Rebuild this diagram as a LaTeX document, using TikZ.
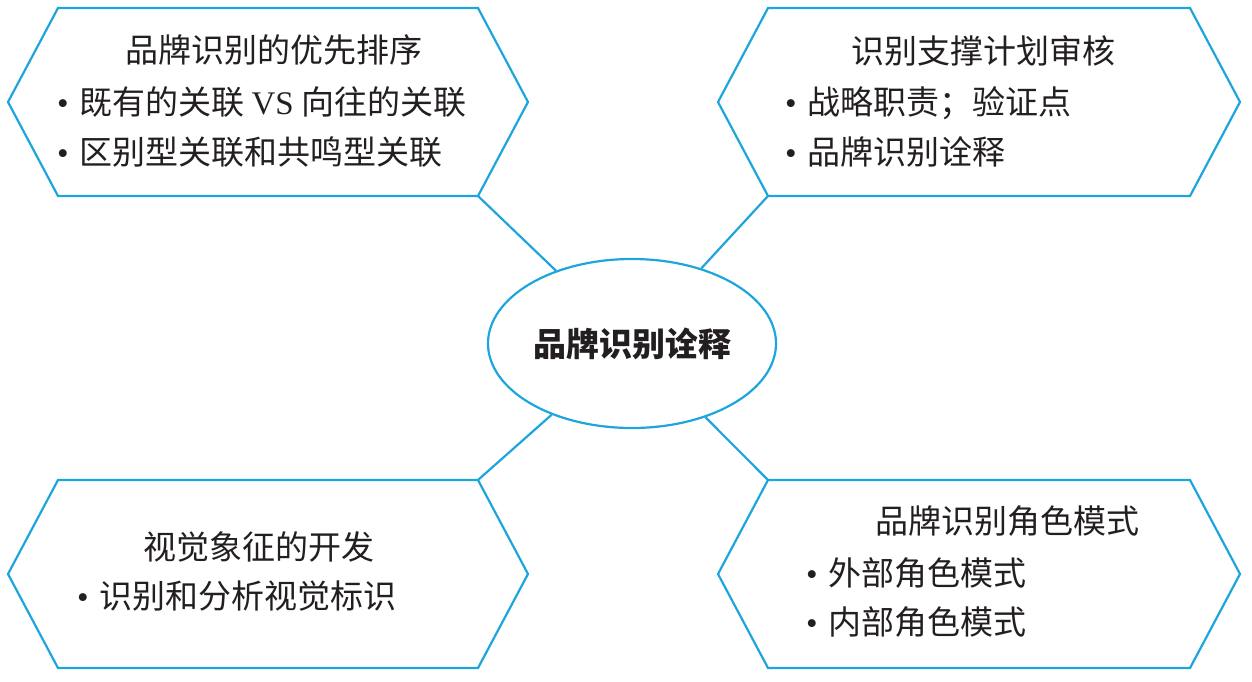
\documentclass[tikz,border=0pt]{standalone}
\usepackage{fontspec}
\setmainfont{Noto Sans CJK SC}
\newfontfamily\latinserif{Liberation Serif}
\usetikzlibrary{shapes.geometric}
\definecolor{hexblue}{RGB}{30,165,220}
\definecolor{txt}{RGB}{35,31,32}
\tikzset{
  hexline/.style={draw=hexblue, line width=2.2pt, line join=miter},
  conn/.style={draw=hexblue, line width=2.2pt},
  titletext/.style={anchor=base, inner sep=0pt, font=\fontsize{33pt}{40pt}\selectfont, text=txt},
  itemtext/.style={anchor=base west, inner sep=0pt, font=\fontsize{33pt}{40pt}\selectfont, text=txt},
  centerbox/.style={ellipse, draw=hexblue, line width=2.2pt, minimum width=288pt, minimum height=169pt, inner sep=0pt, font=\fontsize{33pt}{40pt}\selectfont\bfseries, text=txt}
}
\newcommand{\bul}{\makebox[22pt][l]{\latinserif •}}
\begin{document}
\begin{tikzpicture}[x=1pt,y=-1pt]
\useasboundingbox (0,0) rectangle (1252,682);
% hexagon corner coordinates
\coordinate (tlL) at (8,102);   \coordinate (tlTL) at (58,8);   \coordinate (tlTR) at (478,8);
\coordinate (tlR) at (528,102); \coordinate (tlBR) at (478,196); \coordinate (tlBL) at (58,196);
\coordinate (trL) at (718,102); \coordinate (trTL) at (768,8);  \coordinate (trTR) at (1190,8);
\coordinate (trR) at (1240,102); \coordinate (trBR) at (1190,196); \coordinate (trBL) at (768,196);
\coordinate (blL) at (8,574);   \coordinate (blTL) at (58,480); \coordinate (blTR) at (478,480);
\coordinate (blR) at (528,574); \coordinate (blBR) at (478,668); \coordinate (blBL) at (58,668);
\coordinate (brL) at (718,574); \coordinate (brTL) at (768,480); \coordinate (brTR) at (1190,480);
\coordinate (brR) at (1240,574); \coordinate (brBR) at (1190,668); \coordinate (brBL) at (768,668);
\draw[hexline] (tlL) -- (tlTL) -- (tlTR) -- (tlR) -- (tlBR) -- (tlBL) -- cycle;
\draw[hexline] (trL) -- (trTL) -- (trTR) -- (trR) -- (trBR) -- (trBL) -- cycle;
\draw[hexline] (blL) -- (blTL) -- (blTR) -- (blR) -- (blBR) -- (blBL) -- cycle;
\draw[hexline] (brL) -- (brTL) -- (brTR) -- (brR) -- (brBR) -- (brBL) -- cycle;
% centre
\node[centerbox] (c) at (632,343.5) {品牌识别诠释};
% connectors
\draw[conn] (tlBR) -- (c);
\draw[conn] (trBL) -- (c);
\draw[conn] (blTR) -- (c);
\draw[conn] (brTL) -- (c);
% top-left texts
\node[titletext] (tl1) at (274,62.5) {品牌识别的优先排序};
\node[itemtext] (tl2) at (57,114.5) {\bul 既有的关联 {\latinserif VS} 向往的关联};
\node[itemtext] (tl3) at (57,164.5) {\bul 区别型关联和共鸣型关联};
% top-right texts
\node[titletext] (tr1) at (983,63.5) {识别支撑计划审核};
\node[itemtext] (tr2) at (785,114.5) {\bul 战略职责；验证点};
\node[itemtext] (tr3) at (785,164.5) {\bul 品牌识别诠释};
% bottom-left texts
\node[titletext] (bl1) at (259,559.5) {视觉象征的开发};
\node[itemtext] (bl2) at (77,608.5) {\bul 识别和分析视觉标识};
% bottom-right texts
\node[titletext] (br1) at (1007,533.5) {品牌识别角色模式};
\node[itemtext] (br2) at (806,585.5) {\bul 外部角色模式};
\node[itemtext] (br3) at (806,634.5) {\bul 内部角色模式};
\end{tikzpicture}
\end{document}
